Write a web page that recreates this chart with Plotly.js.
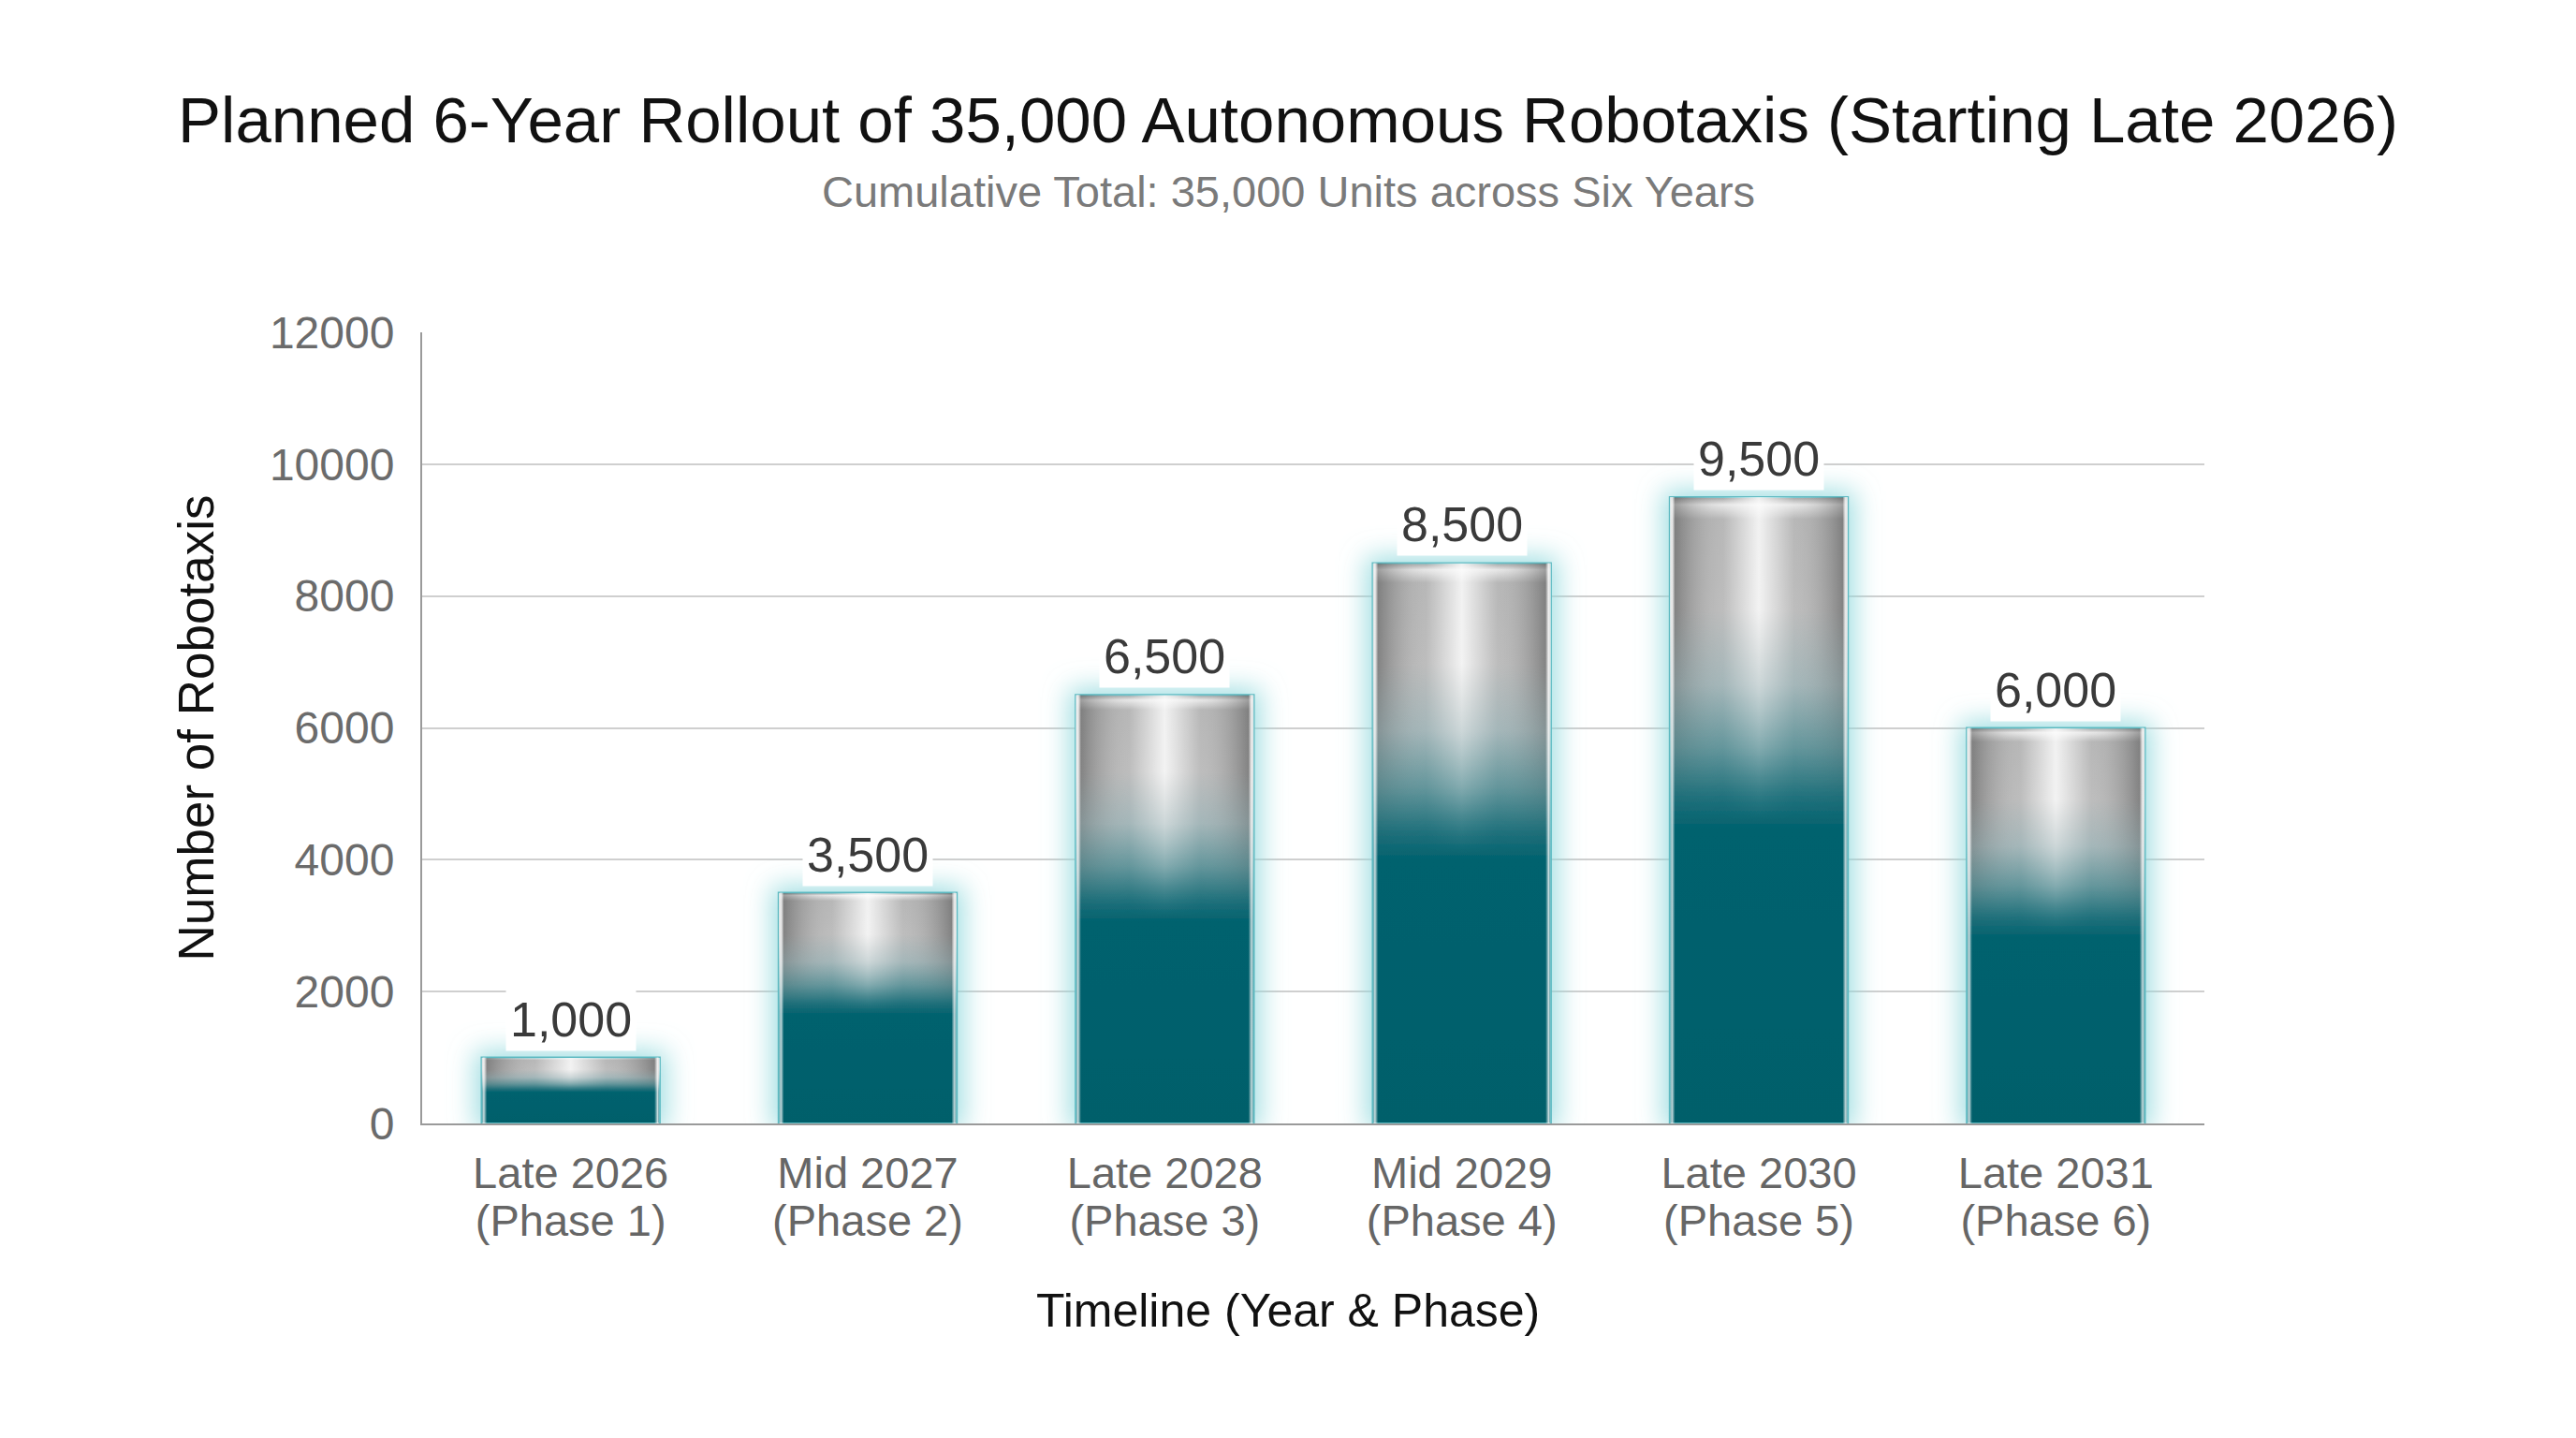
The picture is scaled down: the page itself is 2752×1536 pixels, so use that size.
<!DOCTYPE html>
<html>
<head>
<meta charset="utf-8">
<script src="https://cdn.plot.ly/plotly-3.0.1.min.js"></script>
<style>
  html, body { margin: 0; padding: 0; background: #ffffff; }
  #rollout_chart { width: 2752px; height: 1536px; }
</style>
</head>
<body>
<div id="rollout_chart"></div>
<script>
// Rollout phases
const periods = ["Late 2026", "Mid 2027", "Late 2028", "Mid 2029", "Late 2030", "Late 2031"];
const phaseNames = ["(Phase 1)", "(Phase 2)", "(Phase 3)", "(Phase 4)", "(Phase 5)", "(Phase 6)"];
const units = [1000, 3500, 6500, 8500, 9500, 6000];
const yTicks = [0, 2000, 4000, 6000, 8000, 10000, 12000];

const fontFamily = "Liberation Sans, Arial, sans-serif";

// two-line tick labels; a small base size keeps the line spacing tight
const categories = periods.map((p, i) => p + " " + phaseNames[i]);
const tickLabels = periods.map((p, i) =>
  "<span style='font-size:47px'>" + p + "</span><br><span style='font-size:47px'>" + phaseNames[i] + "</span>"
);

const configRollout = {
  displayModeBar: false,
  staticPlot: true,
};

const rolloutBars = {
  x: categories,
  y: units,
  type: "bar",
  marker: {
    color: "#03636f",
    line: { color: "#5bb9c1", width: 2 },
  },
  hoverinfo: "skip",
};

// value labels above each bar, white box breaks the gridline like the original
const valueLabels = categories.map((c, i) => ({
  x: c,
  y: units[i],
  xref: "x",
  yref: "y",
  text: units[i].toLocaleString("en-US"),
  showarrow: false,
  yanchor: "bottom",
  yshift: 7,
  bgcolor: "#ffffff",
  borderpad: 4,
  font: { family: fontFamily, size: 52, color: "#3a3a3a" },
}));

const layoutRollout = {
  width: 2752,
  height: 1536,
  margin: { t: 355, l: 451, r: 397, b: 336 },
  paper_bgcolor: "#ffffff",
  plot_bgcolor: "#ffffff",
  font: { family: fontFamily },
  showlegend: false,
  bargap: 0.4,
  title: {
    text: "Planned 6-Year Rollout of 35,000 Autonomous Robotaxis (Starting Late 2026)",
    x: 0.5,
    xref: "container",
    y: 1 - 128 / 1536,
    yref: "container",
    yanchor: "middle",
    font: { family: fontFamily, size: 69, color: "#111111" },
  },
  xaxis: {
    type: "category",
    tickvals: categories,
    ticktext: tickLabels,
    showline: true,
    linecolor: "#9a9a9a",
    linewidth: 2,
    ticks: "",
    showgrid: false,
    ticklabelstandoff: 20,
    tickfont: { family: fontFamily, size: 39, color: "#666666" },
  },
  yaxis: {
    range: [0, 12000],
    tickvals: yTicks,
    tickformat: "d",
    showline: true,
    linecolor: "#9a9a9a",
    linewidth: 2,
    showgrid: true,
    gridcolor: "#cfcfcf",
    gridwidth: 2,
    zeroline: false,
    ticks: "",
    ticklabelstandoff: 18,
    tickfont: { family: fontFamily, size: 48, color: "#6b6b6b" },
    title: {
      text: "Number of Robotaxis",
      standoff: 42,
      font: { family: fontFamily, size: 53, color: "#111111" },
    },
  },
  annotations: [
    {
      text: "Cumulative Total: 35,000 Units across Six Years",
      xref: "paper",
      yref: "paper",
      x: (1376 - 451) / 1904,
      y: (1200 - 205) / 845,
      xanchor: "center",
      yanchor: "middle",
      showarrow: false,
      font: { family: fontFamily, size: 47, color: "#7a7a7a" },
    },
    {
      // x-axis title, centred on the page as in the original
      text: "Timeline (Year & Phase)",
      xref: "paper",
      yref: "paper",
      x: (1376 - 451) / 1904,
      y: (1200 - 1400) / 845,
      xanchor: "center",
      yanchor: "middle",
      showarrow: false,
      font: { family: fontFamily, size: 50, color: "#111111" },
    },
  ].concat(valueLabels),
};

// metallic-to-teal look + glow, added on top of the rendered bars
const barDefs = `
  <linearGradient id="barBody" x1="0" y1="0" x2="0" y2="1">
    <stop offset="0" stop-color="#8c8c8c"/>
    <stop offset="0.012" stop-color="#e2e2e2"/>
    <stop offset="0.035" stop-color="#a6a6a6"/>
    <stop offset="0.18" stop-color="#adadad"/>
    <stop offset="0.30" stop-color="#98adb0"/>
    <stop offset="0.40" stop-color="#5b9096"/>
    <stop offset="0.48" stop-color="#1d6f7a"/>
    <stop offset="0.53" stop-color="#02626e"/>
    <stop offset="1" stop-color="#015f6b"/>
  </linearGradient>
  <linearGradient id="barSheen" x1="0" y1="0" x2="1" y2="0">
    <stop offset="0" stop-color="#ffffff" stop-opacity="0.8"/>
    <stop offset="0.03" stop-color="#5a5a5a" stop-opacity="0.5"/>
    <stop offset="0.3" stop-color="#ffffff" stop-opacity="0.2"/>
    <stop offset="0.5" stop-color="#ffffff" stop-opacity="0.85"/>
    <stop offset="0.7" stop-color="#ffffff" stop-opacity="0.2"/>
    <stop offset="0.97" stop-color="#5a5a5a" stop-opacity="0.5"/>
    <stop offset="1" stop-color="#ffffff" stop-opacity="0.8"/>
  </linearGradient>
  <linearGradient id="sheenFade" x1="0" y1="0" x2="0" y2="1">
    <stop offset="0" stop-color="#ffffff"/>
    <stop offset="0.18" stop-color="#ffffff"/>
    <stop offset="0.32" stop-color="#888888"/>
    <stop offset="0.45" stop-color="#222222"/>
    <stop offset="0.52" stop-color="#000000"/>
    <stop offset="1" stop-color="#000000"/>
  </linearGradient>
  <mask id="sheenMask" maskUnits="objectBoundingBox" maskContentUnits="objectBoundingBox" x="0" y="0" width="1" height="1">
    <rect x="0" y="0" width="1" height="1" fill="url(#sheenFade)"/>
  </mask>
  <linearGradient id="barEdges" x1="0" y1="0" x2="1" y2="0">
    <stop offset="0" stop-color="#ffffff" stop-opacity="0"/>
    <stop offset="0.012" stop-color="#ffffff" stop-opacity="0.8"/>
    <stop offset="0.03" stop-color="#ffffff" stop-opacity="0"/>
    <stop offset="0.97" stop-color="#ffffff" stop-opacity="0"/>
    <stop offset="0.988" stop-color="#ffffff" stop-opacity="0.8"/>
    <stop offset="1" stop-color="#ffffff" stop-opacity="0"/>
  </linearGradient>
  <filter id="barGlow" filterUnits="userSpaceOnUse" x="-500" y="-500" width="4000" height="3000">
    <feMorphology in="SourceAlpha" operator="dilate" radius="6" result="grown"/>
    <feGaussianBlur in="grown" stdDeviation="14" result="blur"/>
    <feFlood flood-color="#8fd8dc" flood-opacity="0.85"/>
    <feComposite in2="blur" operator="in" result="glow"/>
    <feMerge><feMergeNode in="glow"/><feMergeNode in="SourceGraphic"/></feMerge>
  </filter>`;

Plotly.newPlot("rollout_chart", [rolloutBars], layoutRollout, configRollout).then(function (gd) {
  const svg = gd.querySelector(".main-svg");
  let defs = svg.querySelector("defs");
  defs.insertAdjacentHTML("beforeend", barDefs);

  gd.querySelectorAll(".barlayer .point path").forEach(function (bar) {
    bar.style.fill = "url(#barBody)";
    bar.style.filter = "url(#barGlow)";

    const sheen = bar.cloneNode(false);
    sheen.style.fill = "url(#barSheen)";
    sheen.style.filter = "none";
    sheen.style.stroke = "none";
    sheen.setAttribute("mask", "url(#sheenMask)");
    bar.parentNode.appendChild(sheen);

    const edges = bar.cloneNode(false);
    edges.style.fill = "url(#barEdges)";
    edges.style.filter = "none";
    edges.style.stroke = "none";
    bar.parentNode.appendChild(edges);
  });
});
</script>
</body>
</html>
